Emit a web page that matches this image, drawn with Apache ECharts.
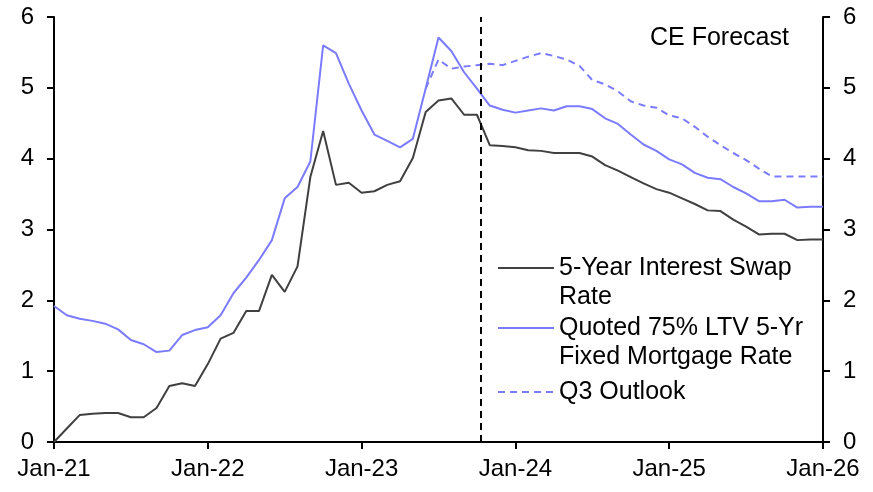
<!DOCTYPE html>
<html>
<head>
<meta charset="utf-8">
<script src="https://cdn.jsdelivr.net/npm/echarts@6/dist/echarts.min.js"></script>
<style>
html,body{margin:0;padding:0;background:#fff;}
#chart{width:873px;height:492px;}
</style>
</head>
<body>
<div id="chart"></div>
<script>
// x positions are month indices counted from Jan-21 (0) to Jan-26 (60)
const tickLabels = ['Jan-21', 'Jan-22', 'Jan-23', 'Jan-24', 'Jan-25', 'Jan-26'];
const seriesNames = ['5-Year Interest Swap Rate', 'Quoted 75% LTV 5-Yr Fixed Mortgage Rate', 'Q3 Outlook'];
const legendLabels = ['5-Year Interest Swap\nRate', 'Quoted 75% LTV 5-Yr\nFixed Mortgage Rate', 'Q3 Outlook'];
const forecastMarker = 33.3;
const forecastText = 'CE Forecast';

const swapRate = [
  0.00, 0.19, 0.38, 0.40, 0.41, 0.41, 0.35, 0.35, 0.48, 0.79, 0.83, 0.79,
  1.10, 1.46, 1.54, 1.85, 1.85, 2.36, 2.12, 2.48, 3.74, 4.39, 3.63, 3.66,
  3.52, 3.54, 3.63, 3.68, 4.01, 4.66, 4.82, 4.85, 4.62, 4.62, 4.19, 4.18,
  4.16, 4.12, 4.11, 4.08, 4.08, 4.08, 4.03, 3.91, 3.83, 3.74, 3.65, 3.57,
  3.52, 3.44, 3.36, 3.27, 3.26, 3.14, 3.04, 2.93, 2.94, 2.94, 2.85, 2.86,
  2.86
];
const mortgageRate = [
  1.92, 1.79, 1.74, 1.71, 1.67, 1.59, 1.44, 1.38, 1.27, 1.29, 1.51, 1.58,
  1.62, 1.79, 2.10, 2.32, 2.57, 2.85, 3.44, 3.60, 3.96, 5.60, 5.49, 5.06,
  4.68, 4.34, 4.25, 4.16, 4.28, 4.99, 5.71, 5.52, 5.22, 4.99, 4.75, 4.69,
  4.65, 4.68, 4.71, 4.68, 4.74, 4.74, 4.70, 4.57, 4.49, 4.34, 4.20, 4.11,
  3.99, 3.92, 3.80, 3.73, 3.71, 3.60, 3.51, 3.40, 3.40, 3.42, 3.31, 3.32,
  3.32
];
const q3Outlook = [
  null, null, null, null, null, null, null, null, null, null, null, null,
  null, null, null, null, null, null, null, null, null, null, null, null,
  null, null, null, null, null, 4.99, 5.40, 5.27, 5.30, 5.32, 5.34, 5.32,
  5.38, 5.44, 5.49, 5.45, 5.40, 5.31, 5.11, 5.05, 4.95, 4.81, 4.75, 4.72,
  4.61, 4.57, 4.45, 4.31, 4.19, 4.08, 3.98, 3.86, 3.75, 3.75, 3.75, 3.75,
  3.75
];

const FONT = '"Liberation Sans", Arial, sans-serif';
const pairs = arr => arr.map((v, i) => [i, v]);

const chart = echarts.init(document.getElementById('chart'), null, {renderer: 'canvas'});

function yAxisDef(pos) {
  return {
    type: 'value', position: pos, min: 0, max: 6, interval: 1,
    axisLine: {show: true, lineStyle: {color: '#000', width: 2}},
    axisTick: {show: true, inside: false, length: 7, lineStyle: {color: '#000', width: 2}},
    axisLabel: {color: '#000', fontSize: 24, fontFamily: FONT, margin: 20},
    splitLine: {show: false}
  };
}

// An empty leading line keeps the legend line beside the first text line.
function legendDef(idx, top) {
  const label = legendLabels[idx];
  const multi = label.indexOf('\n') >= 0;
  return {
    data: [seriesNames[idx]],
    left: 497, top: top, orient: 'vertical', padding: 0,
    itemWidth: 56, itemHeight: 14, itemGap: 0,
    selectedMode: false,
    itemStyle: {opacity: 0},
    formatter: () => (multi ? '\n' : '') + label,
    textStyle: {color: '#000', fontSize: 25, fontFamily: FONT, lineHeight: 29}
  };
}

chart.setOption({
  animation: false,
  backgroundColor: '#fff',
  grid: {left: 54, right: 50, top: 17, bottom: 50, containLabel: false},
  xAxis: {
    type: 'value', min: 0, max: 60, interval: 12,
    axisLine: {show: true, onZero: false, lineStyle: {color: '#000', width: 2}},
    axisTick: {show: true, inside: false, length: 7, lineStyle: {color: '#000', width: 2}},
    axisLabel: {color: '#000', fontSize: 24, fontFamily: FONT, margin: 15,
      formatter: v => tickLabels[Math.round(v / 12)]},
    splitLine: {show: false}
  },
  yAxis: [yAxisDef('left'), yAxisDef('right')],
  legend: [
    legendDef(0, 224.5),
    legendDef(1, 284.5),
    legendDef(2, 377.5)
  ],
  graphic: [{
    type: 'text', left: 650, top: 26,
    style: {text: forecastText, fill: '#000', font: '25px ' + FONT}
  }],
  series: [
    {
      name: seriesNames[0], type: 'line', data: pairs(swapRate),
      showSymbol: false, symbol: 'none', z: 3,
      lineStyle: {color: '#404040', width: 2}, itemStyle: {color: '#404040'},
      markLine: {
        silent: true, symbol: 'none', label: {show: false},
        lineStyle: {color: '#000', width: 2, type: [7, 5]},
        data: [{xAxis: forecastMarker}]
      }
    },
    {
      name: seriesNames[1], type: 'line', data: pairs(mortgageRate),
      showSymbol: false, symbol: 'none', z: 4,
      lineStyle: {color: '#7b7bff', width: 2}, itemStyle: {color: '#7b7bff'}
    },
    {
      name: seriesNames[2], type: 'line', data: pairs(q3Outlook),
      showSymbol: false, symbol: 'none', connectNulls: false, z: 2,
      lineStyle: {color: '#7b7bff', width: 2, type: [7, 5]}, itemStyle: {color: '#7b7bff'}
    }
  ]
});
</script>
</body>
</html>
